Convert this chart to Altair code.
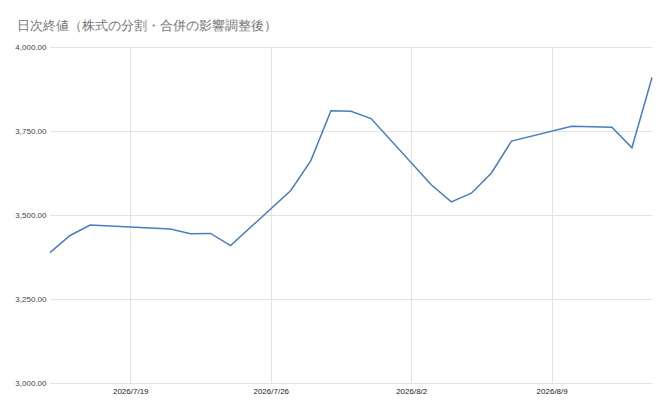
import altair as alt
import pandas as pd

dates = [
    "2026-07-15", "2026-07-16", "2026-07-17", "2026-07-21", "2026-07-22",
    "2026-07-23", "2026-07-24", "2026-07-27", "2026-07-28", "2026-07-29",
    "2026-07-30", "2026-07-31", "2026-08-03", "2026-08-04", "2026-08-05",
    "2026-08-06", "2026-08-07", "2026-08-10", "2026-08-12", "2026-08-13",
    "2026-08-14",
]
closes = [
    3388, 3439, 3470, 3458, 3444,
    3445, 3409, 3573, 3662, 3810,
    3809, 3787, 3590, 3539, 3565,
    3625, 3720, 3764, 3761, 3700,
    3909,
]
tick_dates = [(2026, 7, 19), (2026, 7, 26), (2026, 8, 2), (2026, 8, 9)]
y_ticks = [3000, 3250, 3500, 3750, 4000]
title_text = "日次終値（株式の分割・合併の影響調整後）"

df = pd.DataFrame({"date": dates, "close": closes})

label_font = "Liberation Sans"
title_font = "Roboto"

chart = (
    alt.Chart(df)
    .mark_line(color="#4a7cc0", strokeWidth=1.5)
    .encode(
        x=alt.X(
            "date:T",
            scale=alt.Scale(
                type="utc",
                domain=[
                    alt.DateTime(year=2026, month=7, date=15, utc=True),
                    alt.DateTime(year=2026, month=8, date=14, utc=True),
                ],
            ),
            axis=alt.Axis(
                title=None,
                values=[alt.DateTime(year=y, month=m, date=d, utc=True) for (y, m, d) in tick_dates],
                labelExpr="utcFormat(datum.value, '%Y/%-m/%-d')",
                labelFont=label_font,
                labelFontSize=8,
                labelColor="#222222",
                labelPadding=4,
                ticks=False,
                domain=False,
                grid=True,
                gridColor="#e3e3e3",
                gridWidth=1,
            ),
        ),
        y=alt.Y(
            "close:Q",
            scale=alt.Scale(domain=[3000, 4000], nice=False, zero=False),
            axis=alt.Axis(
                title=None,
                values=y_ticks,
                format=",.2f",
                labelFont=label_font,
                labelFontSize=8,
                labelColor="#444444",
                labelPadding=4,
                ticks=False,
                domain=False,
                grid=True,
                gridColor="#e3e3e3",
                gridWidth=1,
            ),
        ),
    )
    .properties(
        width=602,
        height=336,
        title=alt.TitleParams(
            text=title_text,
            anchor="start",
            frame="bounds",
            font=title_font,
            fontSize=13,
            fontWeight="normal",
            color="#757575",
            offset=10,
            dx=2,
        ),
        autosize=alt.AutoSizeParams(type="none"),
        padding={"left": 42, "top": 39, "right": 4, "bottom": 20},
    )
    .configure_view(stroke=None)
)

chart.save("out.html", embed_options={"renderer": "svg", "actions": False})
